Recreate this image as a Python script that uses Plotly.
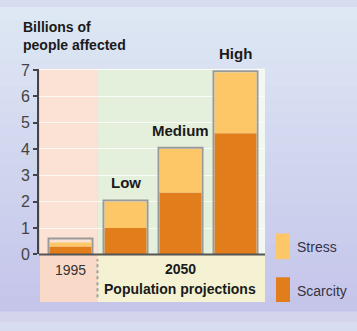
import plotly.graph_objects as go

categories = ["1995", "Low", "Medium", "High"]
scarcity = [0.3, 1.0, 2.35, 4.6]
stress = [0.15, 1.0, 1.65, 2.3]
totals = [a + b for a, b in zip(scarcity, stress)]
outline_tops = [0.6, 2.05, 4.05, 6.95]
scenario_labels = ["", "Low", "Medium", "High"]
y_ticks = [0, 1, 2, 3, 4, 5, 6, 7]

STRESS_C = "#fdc768"
SCAR_C = "#e27d1c"
FONT = "Liberation Sans Narrow, Arial Narrow, Liberation Sans, sans-serif"

W, H = 357, 331
def px(x):
    return x / W
def py(y):
    return 1 - y / H

fig = go.Figure()

# outline boxes (gray frame)
fig.add_trace(go.Bar(x=categories, y=outline_tops, width=0.8,
                     marker=dict(color="rgba(0,0,0,0)", line=dict(color="#9a9a9a", width=2)),
                     hoverinfo="skip", showlegend=False))
fig.add_trace(go.Bar(x=categories, y=scarcity, width=0.76, name="Scarcity",
                     marker=dict(color=SCAR_C, line=dict(width=0)), showlegend=False))
fig.add_trace(go.Bar(x=categories, y=stress, base=scarcity, width=0.76, name="Stress",
                     marker=dict(color=STRESS_C, line=dict(width=0)), showlegend=False))

shapes = []
# background gradient
top = (222, 232, 244)
bot = (196, 196, 234)
n = 24
for i in range(n):
    t = i / (n - 1)
    c = tuple(int(top[k] + (bot[k] - top[k]) * t) for k in range(3))
    shapes.append(dict(type="rect", xref="paper", yref="paper", x0=0, x1=1,
                       y0=max(0, 1 - (i + 1) / n - 0.002), y1=1 - i / n,
                       fillcolor="rgb(%d,%d,%d)" % c, line=dict(width=0), layer="below"))
# bottom light strip
shapes.append(dict(type="rect", xref="paper", yref="paper", x0=0, x1=1, y0=0, y1=py(320),
                   fillcolor="#d4d4ec", line=dict(width=0), layer="below"))

# panels
x_left = -0.555
x_mid = 0.49
x_right = 3.536
shapes.append(dict(type="rect", xref="x", yref="paper", x0=x_left, x1=x_mid, y0=py(310), y1=py(65),
                   fillcolor="#fbe2d4", line=dict(width=0), layer="below"))
shapes.append(dict(type="rect", xref="x", yref="paper", x0=x_mid, x1=x_right - 0.02, y0=py(260), y1=py(65),
                   fillcolor="#e4efdc", line=dict(width=0), layer="below"))
shapes.append(dict(type="rect", xref="x", yref="paper", x0=x_right - 0.15, x1=x_right, y0=py(260), y1=py(65),
                   fillcolor="#f2f7f2", line=dict(width=0), layer="below"))
shapes.append(dict(type="rect", xref="x", yref="paper", x0=x_mid, x1=x_right, y0=py(310), y1=py(260),
                   fillcolor="#f4f2d2", line=dict(width=0), layer="below"))
shapes.append(dict(type="rect", xref="x", yref="paper", x0=x_left, x1=x_mid, y0=py(310), y1=py(260),
                   fillcolor="#f9dac8", line=dict(width=0), layer="below"))
# dashed separator
shapes.append(dict(type="line", xref="x", yref="paper", x0=x_mid, x1=x_mid, y0=py(305), y1=py(265),
                   line=dict(color="#a0a0a0", width=2, dash="dot"), layer="above"))
# x axis line
shapes.append(dict(type="line", xref="x", yref="paper", x0=x_left - 0.02, x1=x_right, y0=py(260), y1=py(260),
                   line=dict(color="#555555", width=2), layer="above"))

# legend swatches
shapes.append(dict(type="rect", xref="paper", yref="paper", x0=px(276), x1=px(290), y0=py(265), y1=py(238),
                   fillcolor=STRESS_C, line=dict(width=0)))
shapes.append(dict(type="rect", xref="paper", yref="paper", x0=px(276), x1=px(290), y0=py(310), y1=py(284),
                   fillcolor=SCAR_C, line=dict(width=0)))

annotations = []
for cat, lab, tot in zip(categories, scenario_labels, outline_tops):
    if lab:
        annotations.append(dict(x=cat, y=tot, xref="x", yref="y", text="<b>%s</b>" % lab,
                                showarrow=False, yanchor="bottom", xanchor="center", yshift=7,
                                font=dict(family=FONT, size=15, color="#1a1a1a")))
annotations += [
    dict(x=0, y=py(276), xref="x", yref="paper", text="1995", showarrow=False,
         xanchor="center", yanchor="middle",
         font=dict(family=FONT, size=14, color="#333333")),
    dict(x=px(180), y=py(275), xref="paper", yref="paper", text="<b>2050</b>", showarrow=False,
         xanchor="center", yanchor="middle",
         font=dict(family=FONT, size=14, color="#1a1a1a")),
    dict(x=px(180), y=py(296), xref="paper", yref="paper", text="<b>Population projections</b>",
         showarrow=False, xanchor="center", yanchor="middle",
         font=dict(family=FONT, size=14, color="#1a1a1a")),
    dict(x=px(21), y=py(11), xref="paper", yref="paper", xanchor="left", yanchor="top", align="left",
         text="<b>Billions of<br>people affected</b>", showarrow=False,
         font=dict(family=FONT, size=14, color="#1a1a1a")),
    dict(x=px(295), y=py(252), xref="paper", yref="paper", xanchor="left", yanchor="middle",
         text="Stress", showarrow=False, font=dict(family=FONT, size=14, color="#333344")),
    dict(x=px(295), y=py(298), xref="paper", yref="paper", xanchor="left", yanchor="middle",
         text="Scarcity", showarrow=False, font=dict(family=FONT, size=14, color="#333344")),
]

fig.update_layout(
    width=W, height=H,
    margin=dict(l=0, r=0, t=0, b=0),
    paper_bgcolor="#d8dcf0",
    plot_bgcolor="rgba(0,0,0,0)",
    barmode="overlay",
    showlegend=False,
    shapes=shapes,
    annotations=annotations,
    xaxis=dict(domain=[px(39), px(265)], range=[x_left - 0.018, x_right], type="category",
               showticklabels=False, showgrid=False, zeroline=False, showline=False, ticks="",
               fixedrange=True),
    yaxis=dict(domain=[py(260), py(65)], range=[0, 7.04], tickvals=y_ticks,
               showgrid=True, gridcolor="rgba(255,255,255,0.75)", gridwidth=1,
               zeroline=False, showline=True, linecolor="#444444", linewidth=2,
               ticks="outside", ticklen=4, tickwidth=1.5, tickcolor="#444444",
               tickfont=dict(family=FONT, size=16, color="#444444"), fixedrange=True),
)

fig.write_html("out.html")
